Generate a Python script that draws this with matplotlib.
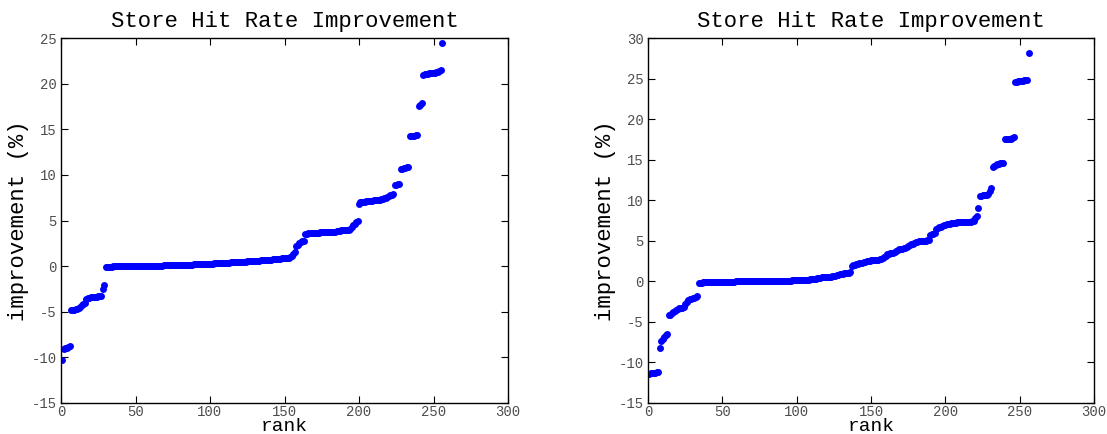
import matplotlib
matplotlib.use("Agg")
import matplotlib.pyplot as plt

plt.rcParams['font.family'] = ['Liberation Mono', 'DejaVu Sans Mono']
plt.rcParams['axes.unicode_minus'] = False

# sorted per-benchmark improvement, rank 1..256
left_vals = [
    -10.3,
    -9.1, -9.0, -8.95, -8.9, -8.8,
    -4.8, -4.78, -4.76, -4.75, -4.72,
    -4.6, -4.45, -4.3, -4.15, -4.0,
    -3.55, -3.5, -3.45, -3.42, -3.4, -3.38, -3.35, -3.33, -3.3, -3.28, -3.25,
    -2.5, -2.1,
    -0.08, -0.07, -0.06, -0.05, -0.05, -0.04, -0.04, -0.03, -0.03, -0.02,
    -0.02, -0.02, -0.01, -0.01, -0.01, 0.0, 0.0, 0.0, 0.0, 0.01,
    0.01, 0.01, 0.01, 0.02, 0.02, 0.02, 0.02, 0.03, 0.03, 0.03,
    0.03, 0.04, 0.04, 0.04, 0.05, 0.05, 0.05, 0.06, 0.06, 0.07,
    0.07, 0.08, 0.08, 0.09, 0.09, 0.10, 0.10, 0.11, 0.11, 0.12,
    0.12, 0.13, 0.13, 0.14, 0.15, 0.15, 0.16, 0.16, 0.17, 0.18,
    0.18, 0.19, 0.19, 0.20, 0.21, 0.21, 0.22, 0.23, 0.24, 0.25,
    0.26, 0.27, 0.28, 0.29, 0.30, 0.31, 0.32, 0.33, 0.34, 0.35,
    0.36, 0.37, 0.38, 0.39, 0.40, 0.40, 0.41, 0.42, 0.43, 0.44,
    0.45, 0.46, 0.47, 0.48, 0.50, 0.51, 0.52, 0.54, 0.55, 0.57,
    0.58, 0.59, 0.60, 0.61, 0.62, 0.63, 0.64, 0.65, 0.66, 0.68,
    0.70, 0.71, 0.73, 0.74, 0.76, 0.78, 0.80, 0.82, 0.84, 0.86,
    0.88, 0.90, 0.92, 0.94, 0.96,
    1.1, 1.35, 1.5,
    2.2, 2.35, 2.5, 2.6, 2.7, 2.75,
    3.5, 3.55, 3.58, 3.6, 3.62, 3.63, 3.65,
    3.66, 3.67, 3.68, 3.69, 3.7, 3.7, 3.71, 3.72, 3.72, 3.73,
    3.74, 3.75, 3.76, 3.78, 3.8, 3.85, 3.9, 3.92, 3.94, 3.95,
    3.97, 3.99, 4.0,
    4.1, 4.3, 4.5, 4.6, 4.8, 4.9,
    6.8,
    7.0, 7.02, 7.05, 7.07, 7.1, 7.12, 7.14, 7.16, 7.18, 7.2, 7.22, 7.25,
    7.28, 7.3, 7.35, 7.4, 7.45, 7.5, 7.6, 7.7, 7.75, 7.8, 7.85,
    8.9, 8.92, 8.95, 8.98,
    10.6, 10.65, 10.7, 10.75, 10.85, 10.9,
    14.25, 14.27, 14.28, 14.3, 14.32, 14.35,
    17.6, 17.7, 17.85,
    21.0, 21.05, 21.08, 21.1, 21.12, 21.14, 21.16, 21.18, 21.2, 21.25,
    21.3, 21.35, 21.45,
    24.5,
]

right_vals = [
    -11.4, -11.35, -11.3, -11.28, -11.25, -11.2, -11.15,
    -8.2,
    -7.3, -7.05, -6.85, -6.65, -6.5,
    -4.2, -4.1, -3.95, -3.8, -3.65, -3.5,
    -3.35, -3.3, -3.28, -3.25, -3.2,
    -2.75, -2.5, -2.3, -2.2,
    -2.15, -2.1, -2.0, -1.9, -1.8,
    -0.2, -0.17, -0.15, -0.13, -0.12, -0.11, -0.1, -0.09, -0.08, -0.08,
    -0.07, -0.07, -0.06, -0.06, -0.05, -0.05, -0.05, -0.04, -0.04, -0.04,
    -0.04, -0.03, -0.03, -0.03, -0.03, -0.02, -0.02, -0.02, -0.02, -0.01,
    -0.01, -0.01, -0.01, 0.0, 0.0, 0.0, 0.0, 0.01, 0.01, 0.01,
    0.01, 0.02, 0.02, 0.02, 0.02, 0.03, 0.03, 0.03, 0.04, 0.04,
    0.04, 0.05, 0.05, 0.05, 0.06, 0.06, 0.07, 0.07, 0.08, 0.08,
    0.09, 0.09, 0.10, 0.11, 0.12, 0.13, 0.14, 0.15, 0.16, 0.17,
    0.18, 0.19, 0.2, 0.21, 0.22, 0.23, 0.24, 0.26, 0.28, 0.30,
    0.35, 0.4, 0.45, 0.48, 0.5, 0.52, 0.53, 0.54, 0.55, 0.57,
    0.6, 0.65, 0.7, 0.75, 0.8, 0.85, 0.9, 0.95, 0.98, 1.0,
    1.03, 1.06, 1.1,
    1.95, 2.0, 2.05, 2.1, 2.15, 2.2, 2.25, 2.3, 2.35, 2.4,
    2.45, 2.5, 2.55, 2.58, 2.6, 2.6, 2.62, 2.63, 2.65, 2.7,
    2.8, 2.9, 2.95, 3.1,
    3.35, 3.4, 3.45, 3.5, 3.55, 3.6,
    3.8, 3.9, 3.95, 4.0, 4.0, 4.05, 4.1, 4.2,
    4.35, 4.45, 4.55, 4.6, 4.7, 4.8, 4.9,
    4.95, 5.0, 5.0, 5.0, 5.02, 5.03, 5.05, 5.1,
    5.7, 5.8, 5.85, 5.9,
    6.4, 6.55, 6.65, 6.75, 6.85, 6.95, 7.0, 7.05,
    7.1, 7.13, 7.16, 7.19, 7.22, 7.24, 7.26, 7.28, 7.3, 7.31,
    7.32, 7.33, 7.34, 7.35, 7.36, 7.37, 7.38, 7.4,
    7.8, 8.0,
    9.0,
    10.5, 10.55, 10.6, 10.62, 10.65, 10.7, 10.8, 11.1, 11.5,
    14.1, 14.25, 14.35, 14.45, 14.5, 14.55, 14.57, 14.6,
    17.5, 17.52, 17.54, 17.56, 17.6, 17.65, 17.75,
    24.55, 24.6, 24.65, 24.7, 24.72, 24.75, 24.78, 24.82, 24.88,
    28.2,
]

left_rank = list(range(1, len(left_vals) + 1))
right_rank = list(range(1, len(right_vals) + 1))

title = "Store Hit Rate Improvement"
x_ticks = [0, 50, 100, 150, 200, 250, 300]
left_yticks = [-15, -10, -5, 0, 5, 10, 15, 20, 25]
right_yticks = [-15, -10, -5, 0, 5, 10, 15, 20, 25, 30]

fig = plt.figure(figsize=(11.07, 4.34), dpi=100)
ax1 = fig.add_axes([61 / 1107, 31 / 434, 447 / 1107, 365 / 434])
ax2 = fig.add_axes([648 / 1107, 31 / 434, 446 / 1107, 365 / 434])

for ax, xs, ys, yt in [(ax1, left_rank, left_vals, left_yticks),
                       (ax2, right_rank, right_vals, right_yticks)]:
    ax.plot(xs, ys, 'o', color='#0000ff', markersize=5, markeredgewidth=0)
    ax.set_xlim(0, 300)
    ax.set_ylim(yt[0], yt[-1])
    ax.set_xticks(x_ticks)
    ax.set_yticks(yt)
    ax.tick_params(direction='in', top=True, right=True, length=5, width=0.8,
                   labelsize=10, labelcolor='#4d4d4d')
    ax.tick_params(axis='x', pad=1.5)
    ax.tick_params(axis='y', pad=3)
    for s in ax.spines.values():
        s.set_linewidth(1.0)
    ax.set_title(title, fontsize=16, pad=8)
    ax.set_xlabel("rank", fontsize=14, labelpad=-1)
    ax.set_ylabel("improvement (%)", fontsize=16, labelpad=2)

fig.savefig("out.png", dpi=100)
